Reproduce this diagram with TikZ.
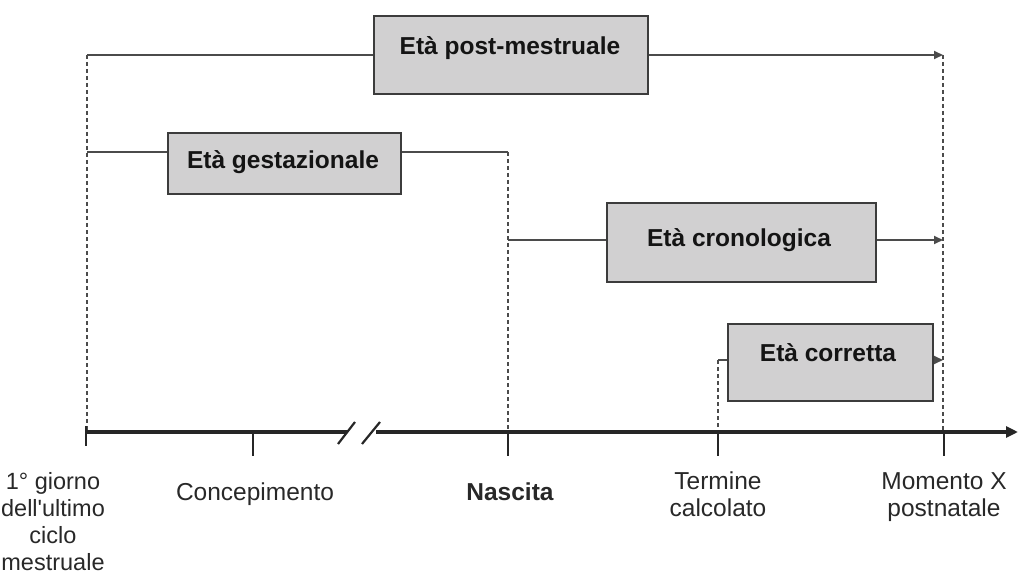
\documentclass[tikz,border=0pt]{standalone}
\usepackage{fontspec}
\setmainfont{Liberation Sans}
\newfontfamily\plainsans{Liberation Sans}
\usetikzlibrary{arrows.meta}
\definecolor{boxfill}{RGB}{209,208,209}
\definecolor{boxline}{RGB}{60,60,60}
\definecolor{conn}{RGB}{75,75,75}
\definecolor{lbl}{RGB}{40,40,40}
\tikzset{
  agebox/.style={draw=boxline, line width=2.2pt, fill=boxfill, inner sep=0pt, anchor=north west},
  agetext/.style={font=\fontsize{24.5}{28}\selectfont\bfseries, text=black!92, inner sep=0pt},
  conline/.style={draw=conn, line width=1.9pt},
  conarrow/.style={conline, -{Triangle[length=9pt,width=8pt]}},
  guide/.style={draw=conn, line width=1.8pt, dash pattern=on 4pt off 3pt},
  axisline/.style={draw=black!85, line width=3.2pt},
  tickmark/.style={draw=black!85, line width=2.2pt},
  axlabel/.style={font=\fontsize{24.5}{27}\selectfont, text=lbl, inner sep=0pt, align=center, anchor=north}
}
\begin{document}
\begin{tikzpicture}[x=1pt,y=-1pt]
\useasboundingbox (0,0) rectangle (1018,575);

% boxes
\node[agebox, minimum width=274pt, minimum height=78pt] (bpm) at (373,15) {};
\node[agetext] (tpm) at (510,48) {Età post-mestruale};
\node[agebox, minimum width=233pt, minimum height=61pt] (bge) at (167,132) {};
\node[agetext] (tge) at (283,162) {Età gestazionale};
\node[agebox, minimum width=269pt, minimum height=79pt] (bcr) at (606,202) {};
\node[agetext] (tcr) at (739,240) {Età cronologica};
\node[agebox, minimum width=205pt, minimum height=77pt] (bco) at (727,323) {};
\node[agetext] (tco) at (828,353) {Età corretta};

% guide coordinates
\coordinate (lmp) at (87,55);
\coordinate (lmpg) at (87,152);
\coordinate (lmpax) at (87,432);
\coordinate (xpm) at (943,55);
\coordinate (xcr) at (943,240);
\coordinate (xco) at (943,360);
\coordinate (xax) at (943,432);
\coordinate (nge) at (508,152);
\coordinate (ncr) at (508,240);
\coordinate (nax) at (508,432);
\coordinate (tco) at (718,360);
\coordinate (tax) at (718,432);

% dashed guides
\draw[guide] (lmp) -- (lmpax);
\draw[guide] (xpm) -- (xax);
\draw[guide] (nge) -- (nax);
\draw[guide] (tco) -- (tax);

% connectors
\draw[conline] (lmp) -- (lmp -| bpm.west);
\draw[conarrow] (bpm.east |- xpm) -- (xpm);
\draw[conline] (lmpg) -- (lmpg -| bge.west);
\draw[conline] (bge.east |- nge) -- (nge);
\draw[conline] (ncr) -- (ncr -| bcr.west);
\draw[conarrow] (bcr.east |- xcr) -- (xcr);
\draw[conline] (tco) -- (tco -| bco.west);
\draw[conarrow] (bco.east |- xco) -- (xco);

% axis
\coordinate (a0) at (86,432);
\coordinate (a1) at (347,432);
\coordinate (a2) at (376,432);
\coordinate (a3) at (1018,432);
\draw[axisline] (a0) -- (a1);
\draw[axisline, -{Triangle[length=12pt,width=11pt]}] (a2) -- (a3);
\draw[tickmark] (338,444) -- (355,422);
\draw[tickmark] (362,444) -- (380,422);
\draw[tickmark] (86,426) -- (86,446);
\draw[tickmark] (253,432) -- (253,456);
\draw[tickmark] (508,432) -- (508,456);
\draw[tickmark] (718,432) -- (718,456);
\draw[tickmark] (944,432) -- (944,456);

% axis labels
\node[axlabel, font=\plainsans\fontsize{23.5}{27}\selectfont] (l1) at (53,472) {1° giorno\\dell'ultimo\\ciclo\\mestruale};
\node[axlabel] (l2) at (255,483) {Concepimento};
\node[axlabel, font=\fontsize{24.5}{27}\selectfont\bfseries] (l3) at (510,483) {Nascita};
\node[axlabel] (l4) at (718,472) {Termine\\calcolato};
\node[axlabel] (l5) at (944,472) {Momento X\\postnatale};
\end{tikzpicture}
\end{document}
